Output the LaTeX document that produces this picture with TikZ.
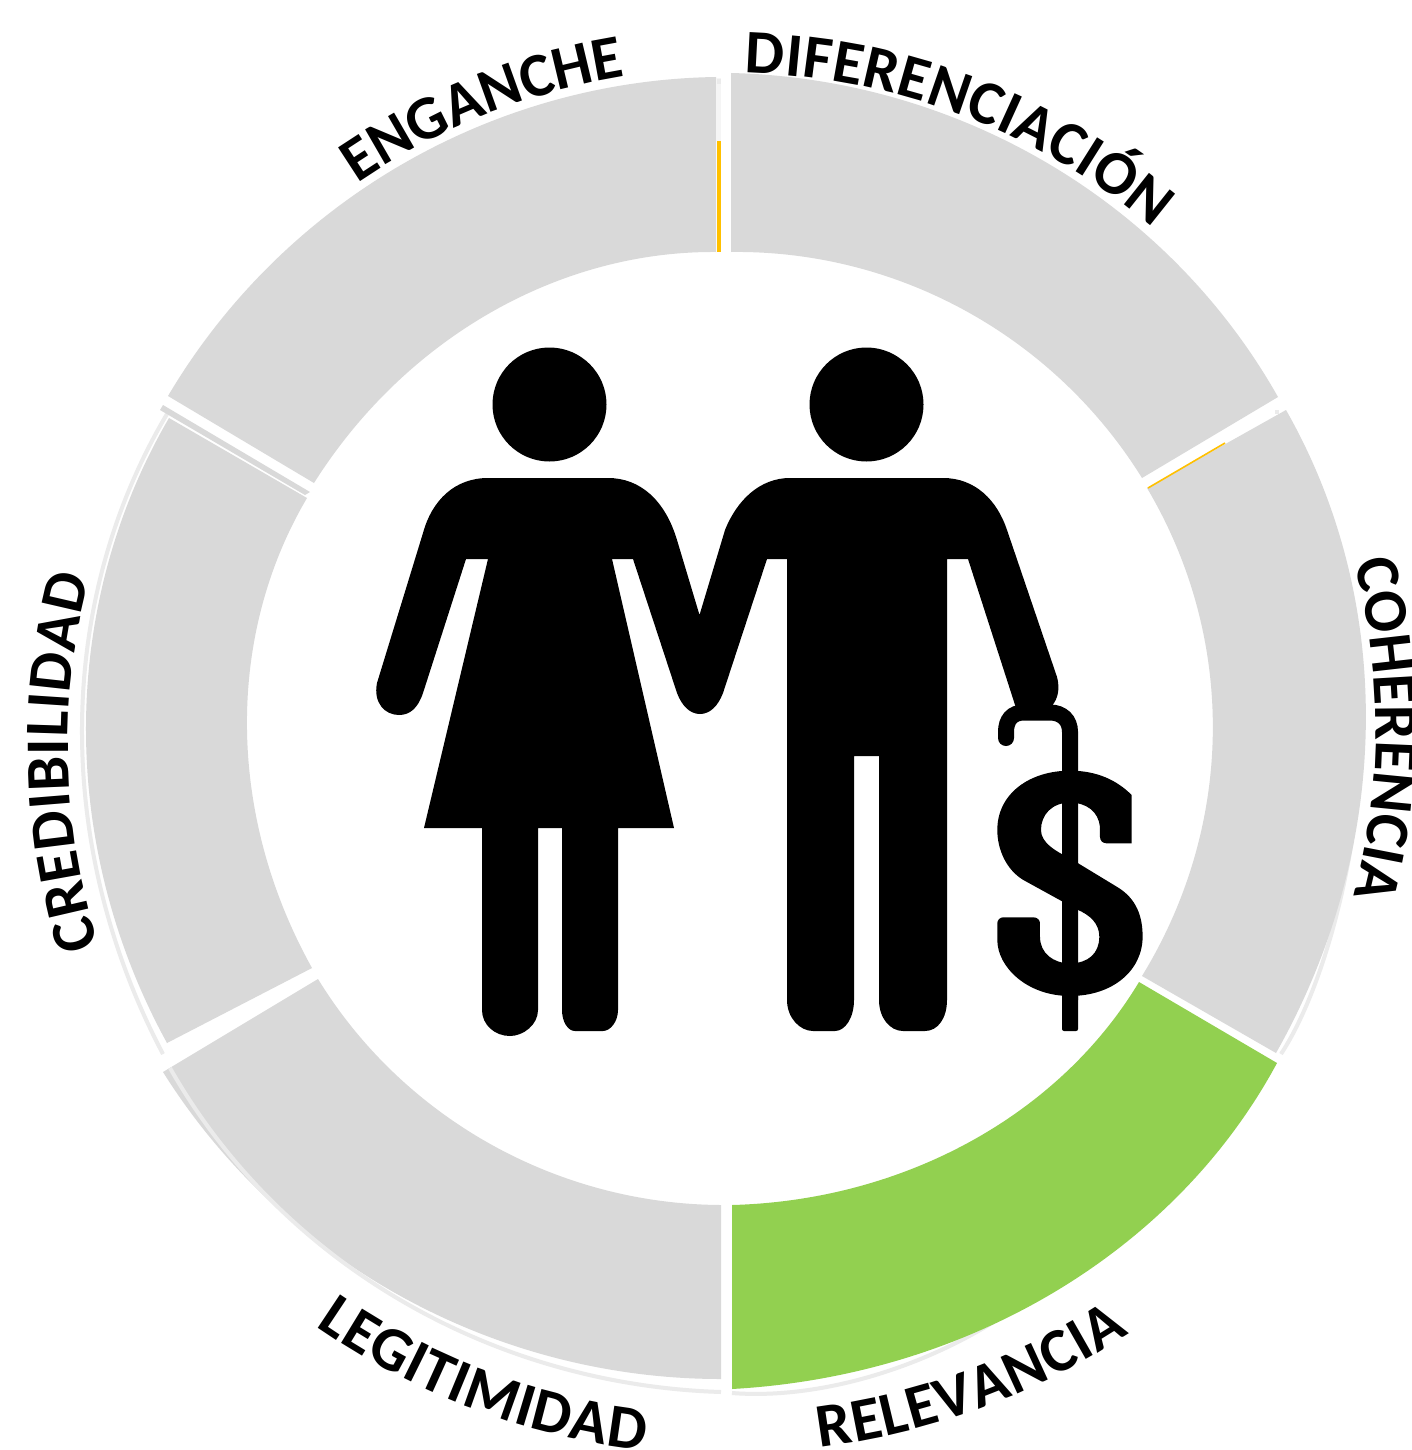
\documentclass[tikz,border=0pt]{standalone}
\usepackage{fontspec}
\setmainfont{Carlito}
\usetikzlibrary{calc,decorations.text}
\definecolor{ringgray}{HTML}{D9D9D9}
\definecolor{ringgreen}{HTML}{92D050}
\definecolor{ringyellow}{HTML}{FFC000}
\definecolor{ringlight}{HTML}{EBEBEB}
\newcommand\lblfont{\fontsize{62}{62}\selectfont\bfseries}
\newcommand\arcthru[3]{.. controls ($0.0238*#1-0.357*#3+1.333*#2$) and ($0.0238*#3-0.357*#1+1.333*#2$) .. #3}
\newcommand\ringseg[7]{\fill[#1] #2 \arcthru{#2}{#3}{#4} -- #5 \arcthru{#5}{#6}{#7} -- cycle;}
\newcommand\lightarc[3]{\draw[lightline] #1 \arcthru{#1}{#2}{#3};}
\newcommand\arctext[4]{\path[decorate,decoration={text along path,text align={fit to path},text={|\lblfont|#4}}] (#1:#3) arc[start angle=#1,end angle=#2,radius=#3];}
\tikzset{lightline/.style={draw=ringlight,line width=4pt}}
\begin{document}
\begin{tikzpicture}[x=1pt,y=-1pt]
\useasboundingbox (0,0) rectangle (1411,1450);
\fill[white] (0,0) rectangle (1411,1450);
% faint outer arcs
\lightarc{(167,414)}{(82,727)}{(163,1054)}
\lightarc{(1352,840)}{(1323,962)}{(1281,1054)}
\lightarc{(732,1393)}{(866,1378)}{(1000,1318)}
% ring segments
\ringseg{ringgray}{(314,483)}{(490,313)}{(716,252)}{(716,77)}{(401,165)}{(168,396)}
\ringseg{ringgray}{(731,252)}{(966,311)}{(1142,478)}{(1278,397)}{(1049,164)}{(731,73)}
\ringseg{ringgray}{(1147,488)}{(1213,732)}{(1142,976)}{(1276,1053)}{(1366,727)}{(1286,410)}
\ringseg{ringgreen}{(1139,982)}{(970,1142)}{(732,1205)}{(732,1389)}{(1055,1292)}{(1277,1063)}
\ringseg{ringgray}{(721,1205)}{(490,1144)}{(318,979)}{(163,1072)}{(402,1297)}{(721,1379)}
\ringseg{ringgray}{(312,968)}{(247,728)}{(307,498)}{(169,418)}{(86,727)}{(167,1043)}
\fill[ringgray] (163,405) -- (310,492) -- (305,495) -- (160,410) -- cycle;
% faint arc over the lower left segment
\lightarc{(170,1068)}{(400,1300)}{(721,1392)}
% small marks at the gaps
\fill[ringlight!50] (716,78) rectangle (721,141);
\fill[ringlight] (717,79) rectangle (721,84);
\fill[ringlight] (1275,410) rectangle (1279,414);
\fill[ringyellow] (717,141) rectangle (721,252);
\draw[ringyellow,line width=1.6pt] (1148,488) -- (1225,443);
% figures
\fill[black] (549.5,404.5) circle[radius=57];
\fill[black] (866.5,404.5) circle[radius=57];
\fill[black] (488,478) -- (608,478) .. controls (640,478) and (665,500) .. (677,540) -- (699.5,615) -- (725,530)
 .. controls (737,500) and (760,478) .. (790,478) -- (943,478) .. controls (975,478) and (997,500) .. (1007,530)
 -- (1057,677) .. controls (1061,692) and (1056,702) .. (1050,708) -- (1016,708) -- (968,559) -- (947,559) -- (947,1000)
 .. controls (947,1018) and (938,1031) .. (925,1031) -- (903,1031) .. controls (890,1031) and (879,1018) .. (879,1000)
 -- (879,756) -- (854,756) -- (854,1000) .. controls (854,1018) and (845,1031) .. (835,1031) -- (813,1031)
 .. controls (800,1031) and (787,1018) .. (787,1000) -- (787,559) -- (767,559) -- (723,693)
 .. controls (718,706) and (710,714) .. (700,714) .. controls (690,714) and (682,706) .. (677,693)
 -- (633,559) -- (612,559) -- (674,828) -- (618,828) -- (618,1010) .. controls (618,1022) and (610,1031) .. (603,1031)
 -- (575,1031) .. controls (568,1031) and (562,1022) .. (562,1010) -- (562,828) -- (538,828) -- (538,1010)
 .. controls (538,1025) and (523,1036) .. (510,1036) .. controls (495,1036) and (482,1025) .. (482,1010)
 -- (482,828) -- (424,828) -- (488,559) -- (466,559) -- (423,693) .. controls (418,708) and (410,715) .. (399,715)
 .. controls (385,715) and (373,703) .. (377,683) -- (423,533) .. controls (432,500) and (455,478) .. (488,478) -- cycle;
% cane
\draw[black,line width=16pt,line cap=round] (1006,738) -- (1006,732) .. controls (1006,720) and (1012,712.5) .. (1024,712.5)
 -- (1050,712.5) .. controls (1062,712.5) and (1070,720) .. (1070,732) -- (1070,1000);
\fill[black,rounded corners=2pt] (1062,990) rectangle (1078,1031);
% dollar
\begin{scope}[shift={(760,680)},x=0.3333pt,y=-0.3333pt]
\fill[black] (1115,345) -- (1115,490) -- (1040,490) .. controls (1028,490) and (1020,482) .. (1020,470) -- (1020,440)
 .. controls (1015,395) and (980,368) .. (930,368) .. controls (875,368) and (843,405) .. (843,450)
 .. controls (843,490) and (890,515) .. (930,535) -- (1070,620) .. controls (1130,655) and (1148,710) .. (1148,770)
 .. controls (1148,870) and (1060,948) .. (930,948) .. controls (800,948) and (712,860) .. (712,780) -- (712,730)
 .. controls (712,720) and (720,712) .. (730,712) -- (820,712) .. controls (832,712) and (840,720) .. (840,730) -- (840,770)
 .. controls (840,820) and (880,850) .. (930,850) .. controls (985,850) and (1018,820) .. (1018,770)
 .. controls (1018,730) and (990,705) .. (950,688) -- (790,600) .. controls (740,570) and (712,510) .. (712,450)
 .. controls (712,340) and (810,272) .. (930,272) .. controls (1010,272) and (1070,300) .. (1115,345) -- cycle;
\end{scope}
% curved labels
\begin{scope}[shift={(730,728)},x=1pt,y=1pt]
\arctext{124.4}{99.2}{660}{ENGANCHE}
\arctext{88.7}{49.7}{655}{DIFERENCIACIÓN}
\arctext{14.8}{-15.1}{646}{COHERENCIA}
\arctext{277.1}{303.4}{725}{RELEVANCIA}
\arctext{235.3}{263.2}{728}{LEGITIMIDAD}
\end{scope}
\begin{scope}[shift={(730,746)},x=1pt,y=1pt]
\arctext{197.5}{165.3}{662}{CREDIBILIDAD}
\end{scope}
\end{tikzpicture}
\end{document}
